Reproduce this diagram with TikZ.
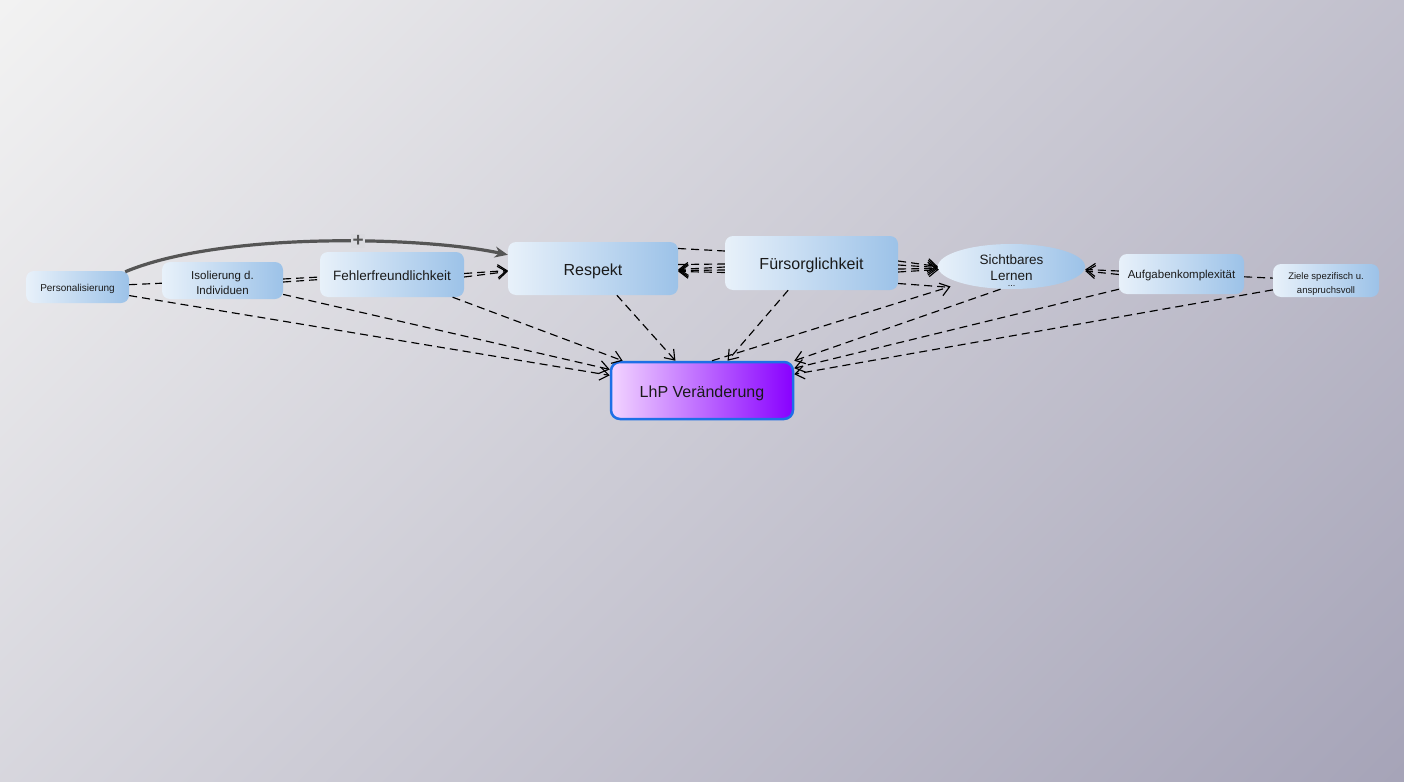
\documentclass[tikz,border=0pt]{standalone}
\usepackage{fontspec}
\setmainfont{Liberation Sans}
\usetikzlibrary{arrows.meta,shapes.geometric}
\definecolor{bgA}{HTML}{F2F2F2}
\definecolor{bgB}{HTML}{A6A4B8}
\definecolor{nodeL}{HTML}{E8F1FA}
\definecolor{nodeR}{HTML}{9CC2E8}
\definecolor{lhpL}{HTML}{F2D4FF}
\definecolor{lhpR}{HTML}{8800FF}
\definecolor{lhpB}{HTML}{1E6FE6}
\definecolor{curveC}{HTML}{555555}
\definecolor{plusbg}{HTML}{DADADF}
\definecolor{txt}{HTML}{1A1A1A}
\begin{document}
\begin{tikzpicture}[x=1pt,y=-1pt,
  concept/.style={rectangle, rounded corners=8pt, left color=nodeL, right color=nodeR,
    text=txt, align=center, inner sep=0pt},
  oneline/.style={text height=#1, text depth=0pt},
  ovalbox/.style={ellipse, left color=nodeL, right color=nodeR,
    text=txt, align=center, inner sep=0pt},
  lhpbox/.style={rectangle, rounded corners=9pt, left color=lhpL, right color=lhpR,
    draw=lhpB, line width=2.5pt, text=txt, align=center, inner sep=0pt},
  dl/.style={draw=black, line width=1.15pt, dash pattern=on 8pt off 5pt},
  arr/.style={-{Straight Barb[length=9pt,width=13pt]}},
  curvearrow/.style={draw=curveC, line width=3.2pt, -{Stealth[length=13pt,width=11pt]}},
  plusbox/.style={fill=plusbg, text=curveC, inner sep=1.5pt, font=\bfseries\fontsize{19}{19}\selectfont}
]
% background
\useasboundingbox (0,0) rectangle (1404,781);
\begin{scope}
  \clip (0,0) rectangle (1404,781);
  \shade[top color=bgA, bottom color=bgB, shading angle=45] (-70.5,-382) rectangle (1474.5,1163);
\end{scope}

% nodes
\node[concept, oneline=8.5pt, minimum width=103pt, minimum height=32pt, font=\fontsize{10}{12}\selectfont]
  (pers) at (77.5,287) {Personalisierung};
\node[concept, minimum width=121pt, minimum height=37pt, font=\fontsize{11.5}{15}\selectfont]
  (iso) at (222.5,280.5) {\rule{0pt}{12.5pt}Isolierung d.\\Individuen};
\node[concept, oneline=11pt, minimum width=144pt, minimum height=45pt, font=\fontsize{13.5}{16}\selectfont]
  (fehl) at (392,274.5) {Fehlerfreundlichkeit};
\node[concept, oneline=13pt, minimum width=170pt, minimum height=53pt, font=\fontsize{16}{19}\selectfont]
  (resp) at (593,268.5) {Respekt};
\node[concept, oneline=13pt, minimum width=173pt, minimum height=54pt, font=\fontsize{16}{19}\selectfont]
  (fuer) at (811.5,263) {Fürsorglichkeit};
\node[ovalbox, minimum width=147pt, minimum height=45pt, font=\fontsize{13.5}{16}\selectfont]
  (sicht) at (1011.5,266.5) {\rule{0pt}{11.5pt}Sichtbares\\Lernen};
\node[text=txt, inner sep=0pt, text height=1.5pt, text depth=0pt, font=\fontsize{9}{9}\selectfont]
  (dots) at (1011.5,286) {...};
\node[concept, oneline=9.5pt, minimum width=125pt, minimum height=40pt, font=\fontsize{11.5}{14}\selectfont]
  (aufg) at (1181.5,274) {Aufgabenkomplexität};
\node[concept, minimum width=106pt, minimum height=33pt, font=\fontsize{9.5}{14}\selectfont]
  (ziel) at (1326,280.5) {\rule{0pt}{13pt}Ziele spezifisch u.\\anspruchsvoll};
\node[lhpbox, oneline=13pt, minimum width=182pt, minimum height=57pt, font=\fontsize{16}{19}\selectfont]
  (lhp) at (702,390.5) {LhP Veränderung};

% thick curved arrow with +
\draw[curvearrow] ([shift={(-4,1)}]pers.north east) .. controls (220,232) and (420,236) ..
  ([shift={(0,13)}]resp.north west) node[pos=0.59, plusbox] (plus) {+};

% dashed arrows to LhP
\draw[dl,arr] (pers) -- (lhp);
\draw[dl,arr] (iso) -- (lhp);
\draw[dl,arr] (fehl) -- (lhp);
\draw[dl,arr] (resp) -- (lhp);
\draw[dl,arr] (fuer) -- (lhp);
\draw[dl,arr] ([shift={(-11,0)}]sicht.south) -- (lhp.north east);
\draw[dl,arr] (aufg) -- (lhp);
\draw[dl,arr] (ziel) -- (lhp);
\draw[dl,arr] ([xshift=10pt]lhp.north) -- ([shift={(-61,20)}]sicht.center);

% horizontal links
\draw[dl] (pers) -- (iso);
\draw[dl] ([shift={(0,-1.5)}]iso.east) -- ([shift={(0,2.5)}]fehl.west);
\draw[dl] ([shift={(0,1.5)}]iso.east) -- ([shift={(0,5)}]fehl.west);
\draw[dl,arr] ([shift={(0,-1)}]fehl.east) -- ([shift={(0,2)}]resp.west);
\draw[dl,arr] ([shift={(0,2.5)}]fehl.east) -- ([shift={(0,3)}]resp.west);
\draw[dl] ([shift={(0,-20)}]resp.east) -- ([shift={(0,-12)}]fuer.west);
\draw[dl] ([shift={(0,-4)}]resp.east) -- ([shift={(0,1)}]fuer.west);
\draw[dl,arr] ([shift={(0,4)}]fuer.west) -- ([shift={(0,1)}]resp.east);
\draw[dl,arr] ([shift={(0,7)}]fuer.west) -- ([shift={(0,2)}]resp.east);
\draw[dl,arr] ([shift={(0,9.5)}]fuer.west) -- ([shift={(0,3)}]resp.east);
\draw[dl,arr] ([shift={(0,-2)}]fuer.east) -- ([shift={(0,0)}]sicht.west);
\draw[dl,arr] ([shift={(0,2)}]fuer.east) -- ([shift={(0,1)}]sicht.west);
\draw[dl,arr] ([shift={(0,6)}]fuer.east) -- ([shift={(0,2)}]sicht.west);
\draw[dl,arr] ([shift={(0,9)}]fuer.east) -- ([shift={(1,3)}]sicht.west);
\draw[dl] ([shift={(0,20.5)}]fuer.east) -- ([shift={(-66,20.5)}]sicht.center);
\draw[dl,arr] ([shift={(0,-3)}]aufg.west) -- ([shift={(0,3)}]sicht.east);
\draw[dl,arr] ([shift={(0,0.5)}]aufg.west) -- ([shift={(0,4.5)}]sicht.east);
\draw[dl] (aufg) -- (ziel);
\end{tikzpicture}
\end{document}
